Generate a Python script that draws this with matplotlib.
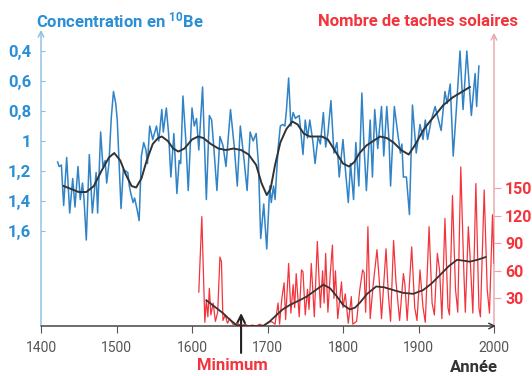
import matplotlib.pyplot as plt

plt.rcParams['font.family'] = ['Roboto', 'DejaVu Sans']

# 10Be concentration (plotted on an inverted scale)
be_years = [1422, 1424, 1427, 1430, 1434, 1438, 1442, 1445, 1449, 1452, 1455, 1457,
            1460, 1464, 1468, 1473, 1475, 1479, 1482, 1485, 1487, 1490, 1493, 1496,
            1499, 1501, 1506, 1509, 1512, 1515, 1517, 1519, 1522, 1524, 1527, 1530,
            1533, 1536, 1539, 1541, 1544, 1548, 1553, 1556, 1560, 1562, 1566, 1569,
            1572, 1576, 1580, 1583, 1585, 1588, 1592, 1595, 1600, 1603, 1606, 1609,
            1614, 1619, 1623, 1626, 1629, 1633, 1637, 1641, 1645, 1651, 1656, 1660,
            1664, 1669, 1673, 1677, 1681, 1685, 1688, 1691, 1695, 1699, 1703, 1705,
            1708, 1710, 1714, 1717, 1720, 1723, 1725, 1728, 1731, 1734, 1737, 1739,
            1742, 1747, 1750, 1753, 1756, 1760, 1763, 1767, 1770, 1774, 1777, 1780,
            1784, 1788, 1792, 1795, 1800, 1803, 1807, 1810, 1814, 1817, 1821, 1825,
            1828, 1831, 1836, 1839, 1842, 1846, 1851, 1854, 1858, 1861, 1863, 1868,
            1872, 1876, 1878, 1880, 1884, 1888, 1892, 1897, 1902, 1906, 1909, 1912,
            1917, 1922, 1926, 1930, 1935, 1938, 1942, 1946, 1950, 1955, 1959, 1964,
            1970, 1975, 1977, 1980]
be_values = [1.14, 1.17, 1.16, 1.43, 1.11, 1.48, 1.25, 1.44, 1.17, 1.39, 1.28, 1.39,
             1.66, 1.09, 1.48, 1.21, 1.48, 0.94, 1.17, 1.13, 1.28, 1.15, 0.85, 0.67,
             0.75, 0.86, 1.45, 1.19, 1.20, 1.21, 1.30, 1.35, 1.41, 1.38, 1.45, 1.53,
             1.10, 1.01, 1.06, 1.15, 0.90, 0.99, 0.90, 1.00, 0.79, 0.94, 0.78, 0.95,
             1.24, 0.95, 1.35, 1.13, 1.15, 0.70, 1.01, 1.33, 0.78, 0.90, 0.85, 1.06,
             0.64, 1.39, 0.83, 0.86, 1.05, 1.33, 0.97, 1.03, 1.17, 0.79, 1.04, 1.30,
             0.90, 1.13, 1.33, 0.94, 1.00, 0.95, 1.15, 1.65, 1.42, 1.72, 1.30, 1.41,
             1.30, 1.39, 1.05, 0.90, 0.89, 0.90, 0.80, 0.58, 0.90, 0.81, 0.85, 0.84,
             0.83, 1.09, 0.86, 0.98, 0.86, 1.00, 1.15, 0.97, 1.02, 0.81, 1.04, 0.95,
             0.73, 1.08, 1.01, 1.24, 0.99, 1.18, 1.41, 1.15, 1.39, 1.01, 1.30, 0.68,
             1.05, 1.33, 0.86, 1.24, 0.79, 1.05, 0.77, 1.10, 0.77, 1.00, 1.30, 0.77,
             0.93, 1.08, 1.02, 1.24, 1.24, 1.49, 0.76, 1.08, 0.89, 0.99, 0.86, 0.99,
             0.86, 0.77, 0.85, 0.93, 0.67, 0.75, 0.62, 1.10, 0.80, 0.40, 0.79, 0.40,
             0.83, 0.55, 0.77, 0.50]

be_trend_years = [1430, 1440, 1450, 1460, 1470, 1480, 1490, 1497, 1505, 1512, 1520,
                  1526, 1533, 1540, 1548, 1555, 1560, 1568, 1575, 1582, 1590, 1600,
                  1608, 1615, 1625, 1635, 1645, 1655, 1665, 1675, 1685, 1692, 1699,
                  1704, 1710, 1717, 1725, 1733, 1740, 1748, 1756, 1765, 1772, 1780,
                  1790, 1800, 1808, 1815, 1822, 1831, 1840, 1849, 1858, 1867, 1877,
                  1887, 1895, 1906, 1915, 1925, 1933, 1945, 1955, 1968]
be_trend = [1.30, 1.32, 1.34, 1.34, 1.30, 1.20, 1.11, 1.08, 1.13, 1.22, 1.30,
            1.31, 1.25, 1.13, 1.02, 0.98, 0.97, 1.00, 1.05, 1.07, 1.05, 0.99,
            0.97, 0.98, 1.02, 1.05, 1.06, 1.05, 1.06, 1.09, 1.16, 1.28, 1.36,
            1.32, 1.16, 1.01, 0.92, 0.87, 0.89, 0.95, 0.97, 0.97, 0.97, 0.99,
            1.07, 1.15, 1.17, 1.14, 1.08, 1.03, 1.00, 0.97, 0.98, 1.01, 1.06,
            1.09, 1.03, 0.93, 0.87, 0.81, 0.76, 0.71, 0.68, 0.64]

# Sunspot numbers
spot_years = [1609, 1613, 1617, 1619, 1621, 1623, 1625, 1628, 1631, 1634, 1637, 1639,
              1641, 1644, 1647, 1650, 1655, 1660, 1665, 1670, 1675, 1680, 1685, 1690,
              1695, 1700, 1705, 1710, 1714, 1716, 1719, 1722, 1724, 1728, 1731, 1734,
              1736, 1738, 1742, 1745, 1747, 1750, 1753, 1755, 1758, 1762, 1766, 1770,
              1773, 1775, 1777, 1780, 1783, 1786, 1788, 1790, 1793, 1798, 1800, 1803,
              1807, 1811, 1813, 1818, 1822, 1826, 1828, 1830, 1833, 1836, 1840, 1845,
              1848, 1851, 1857, 1860, 1863, 1867, 1870, 1875, 1880, 1882, 1885, 1891,
              1895, 1898, 1902, 1906, 1909, 1914, 1918, 1921, 1925, 1928, 1931, 1935,
              1939, 1941, 1945, 1949, 1952, 1956, 1960, 1962, 1966, 1968, 1972, 1976,
              1980, 1982, 1987, 1991, 1994, 1998, 2000]
spot_values = [37, 119, 4, 28, 10, 41, 12, 25, 5, 15, 75, 70,
               6, 12, 3, 8, 1, 3, 0, 2, 0, 1, 0, 2,
               0, 3, 5, 2, 25, 2, 30, 47, 7, 68, 14, 45,
               20, 57, 10, 61, 59, 12, 40, 18, 68, 10, 92, 20,
               60, 25, 79, 15, 55, 88, 30, 60, 8, 48, 20, 35,
               3, 32, 2, 5, 38, 61, 58, 15, 108, 8, 45, 83,
               50, 8, 84, 35, 5, 93, 50, 6, 57, 45, 6, 86,
               20, 6, 61, 20, 4, 108, 25, 12, 79, 60, 8, 117,
               20, 12, 142, 40, 15, 173, 60, 15, 108, 80, 14, 155,
               20, 10, 148, 40, 14, 121, 68]

spot_trend_years = [1619, 1630, 1641, 1650, 1659, 1670, 1680, 1694, 1703, 1712, 1720,
                    1730, 1740, 1752, 1762, 1774, 1783, 1792, 1800, 1809, 1816, 1822,
                    1832, 1844, 1855, 1867, 1880, 1893, 1906, 1917, 1928, 1940, 1951,
                    1960, 1968, 1978, 1989]
spot_trend = [28, 21, 14, 7, 1, 0, 0, 0, 5, 12, 18,
              23, 27, 32, 38, 45, 41, 32, 23, 18, 20, 25,
              35, 43, 42, 39, 36, 35, 39, 46, 55, 65, 72,
              71, 70, 72, 75]

be_ticks = [0.4, 0.6, 0.8, 1.0, 1.2, 1.4, 1.6]
be_labels = ['0,4', '0,6', '0,8', '1', '1,2', '1,4', '1,6']
spot_ticks = [30, 60, 90, 120, 150]
year_ticks = [1400, 1500, 1600, 1700, 1800, 1900, 2000]

BLUE = '#2f83c6'
BLUE_TXT = '#2a8fd6'
BLUE_AX = '#86bde0'
RED = '#f4343c'
RED_AX = '#e9a3aa'
DARK = '#333333'
GREY = '#555555'

fig = plt.figure(figsize=(5.32, 3.76), dpi=100)
ax = fig.add_axes([41 / 532, 50 / 376, 453 / 532, 296 / 376])
ax2 = ax.twinx()

ax.plot(be_years, be_values, color=BLUE, lw=1.1, zorder=2)
ax.plot(be_trend_years, be_trend, color=DARK, lw=1.4, zorder=3)
ax2.plot(spot_years, spot_values, color=RED, lw=0.9, zorder=2)
ax2.plot(spot_trend_years, spot_trend, color=DARK, lw=1.3, zorder=3)

ax.set_xlim(1400, 2000)
ax.set_ylim(2.233, 0.26)
ax2.set_ylim(0, 322)

for a in (ax, ax2):
    for s in a.spines.values():
        s.set_visible(False)

# axis lines with arrow heads
arrow = dict(arrowstyle='->', shrinkA=0, shrinkB=0, lw=1.0)
ax.annotate('', xy=(0, 1), xytext=(0, 0), xycoords='axes fraction',
            arrowprops=dict(arrow, color=BLUE_AX), annotation_clip=False)
ax.annotate('', xy=(1, 0.99), xytext=(1, 0), xycoords='axes fraction',
            arrowprops=dict(arrow, color=RED_AX), annotation_clip=False)
ax.annotate('', xy=(1.004, 0), xytext=(0, 0), xycoords='axes fraction',
            arrowprops=dict(arrow, color=DARK), annotation_clip=False)

ax.set_xticks(year_ticks)
ax.tick_params(axis='x', direction='out', length=5, color=GREY, labelcolor=GREY,
               labelsize=10, pad=6)
ax.set_yticks(be_ticks, be_labels, fontweight='bold')
ax.tick_params(axis='y', direction='in', length=3, color=BLUE_AX, labelcolor=BLUE_TXT,
               labelsize=12, pad=7)
ax2.set_yticks(spot_ticks, [str(v) for v in spot_ticks], fontweight='bold')
ax2.tick_params(axis='y', direction='out', length=5, color=RED_AX, labelcolor=RED,
                labelsize=11.5, pad=3)

fig.text(36 / 532, 1 - 20 / 376, 'Concentration en $\\mathregular{^{10}}$Be',
         color=BLUE_TXT, fontsize=12, fontweight='bold', ha='left', va='center')
fig.text(518 / 532, 1 - 22 / 376, 'Nombre de taches solaires', color=RED,
         fontsize=12, fontweight='bold', ha='right', va='center')
fig.text(232 / 532, 1 - 366 / 376, 'Minimum', color=RED, fontsize=12,
         fontweight='bold', ha='center', va='center')
fig.text(474 / 532, 1 - 368 / 376, 'Année', color=DARK, fontsize=12,
         fontweight='bold', ha='center', va='center')

# Maunder minimum marker
ax.annotate('', xy=(1665, 0.044), xytext=(1665, -0.091),
            xycoords=('data', 'axes fraction'),
            arrowprops=dict(arrowstyle='->', color='#222222', lw=1.5,
                            shrinkA=0, shrinkB=0, mutation_scale=14),
            annotation_clip=False)

fig.savefig('out.png', dpi=100, facecolor='white')
